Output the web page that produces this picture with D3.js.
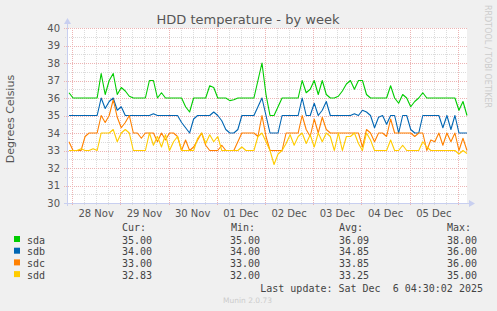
<!DOCTYPE html>
<html>
<head>
<meta charset="utf-8">
<script src="https://cdn.jsdelivr.net/npm/d3@7"></script>
<style>
	body { margin: 0; background: #F0F0F0; }
	text { font-family: "DejaVu Sans", sans-serif; }
	.mono { font-family: "DejaVu Sans Mono", monospace; font-size: 10px; fill: #444; white-space: pre; }
</style>
</head>
<body>
<div id="graph"></div>
<script>
// samples every 2 hours, first one at Nov 27 22:30 UTC
var sampleStart = Date.UTC(2025, 10, 27, 22, 30),
	sampleStep = 2 * 3600 * 1000;

var sda = [36.3, 36, 36, 36, 36, 36, 36, 36, 37.4, 36.2,
	37, 37.4, 36.2, 36.6, 36.4, 36.1, 36, 36, 36, 36,
	37, 37, 36, 36.3, 36, 36, 36, 36, 36, 35.5,
	35.2, 36, 36, 36, 36, 36.7, 36.6, 36, 36, 36,
	35.85, 35.9, 36, 36, 36, 36, 36, 37, 38, 36.2,
	35, 35, 35.5, 36, 36, 36, 36, 36, 37, 36.3,
	36.5, 37, 36.2, 37, 36.2, 36, 36, 36.1, 36.4, 36.8,
	37, 36.5, 37, 37, 36.2, 36, 36, 36, 36, 36,
	36.7, 36, 35.7, 36.2, 36, 35.5, 35.8, 36, 36.3, 36,
	36, 36, 36, 36, 36, 36, 36, 35.3, 35.8, 35];

var sdb = [35, 35, 35, 35, 35, 35, 35, 35, 36, 35.4,
	35.8, 36, 35.3, 35.5, 35, 35, 35, 35, 35, 35,
	35, 35.1, 35, 35, 35, 35, 35, 35, 34.6, 34.3,
	34, 34.8, 35, 35, 35, 35, 35.2, 35, 34.7, 34.2,
	34, 34, 34.2, 35, 35, 35, 35, 35.5, 36, 35,
	34, 34, 34, 35, 35, 35, 35, 35, 36, 35,
	35, 35.7, 35, 35.3, 35.8, 35, 35, 35, 35, 35,
	35, 35.1, 35, 35.3, 35.2, 35, 34.3, 34.9, 35, 34.5,
	35, 35, 34, 35, 35, 34.2, 34, 34, 35, 35,
	35, 35, 35, 34.3, 35, 34.2, 35, 34, 34, 34];

var sdc = [33.5, 33, 33, 33, 33.8, 34, 34, 34, 35, 34.6,
	35, 35.9, 34.9, 34.3, 34.6, 35, 34, 34, 33.7, 34,
	34, 34, 33.5, 34, 33.6, 34, 34, 33.8, 33, 33.6,
	33, 33.2, 33.6, 34, 33.3, 33, 33, 33, 33.3, 33,
	33, 33, 33.5, 34, 34, 34, 34, 33.8, 35, 33.8,
	33, 33, 33, 33, 34, 34, 34, 34, 35, 34.2,
	33.8, 34.8, 34, 34.9, 34.2, 34, 34, 34, 34, 34,
	34, 34, 34, 33.2, 34.2, 34, 33.5, 34, 34, 33.8,
	34.8, 34, 34, 34, 34, 34, 33.8, 34, 34, 33,
	33.6, 33.5, 34, 33.3, 34, 33.5, 34, 33, 33.7, 33];

var sdd = [33, 33, 33, 33.1, 33, 33, 33.1, 33, 34, 34,
	34, 34.2, 33.5, 34, 34.2, 34, 33, 33, 33, 33,
	34, 33.3, 33.8, 33.2, 33.9, 33, 33.5, 33.8, 33, 33,
	33, 33, 33.7, 34, 33.4, 33.9, 33.5, 33.8, 33, 33,
	33, 33, 33, 33.2, 33, 33, 33, 33.8, 34, 33.5,
	33, 32.2, 32.8, 33, 33.4, 33.9, 33.3, 33.8, 34, 33.4,
	33.9, 33.2, 34, 33.5, 34, 33.8, 33, 34, 33, 33.8,
	33.8, 34, 33.4, 33, 34, 33.6, 33, 33, 33, 33,
	33.6, 33, 33, 33.3, 33, 33, 33, 33, 33.5, 33.2,
	33, 33, 33, 33, 33, 33, 33, 32.8, 33, 32.83];

var seriesNames = ["sda", "sdb", "sdc", "sdd"],
	seriesColors = ["#00CC00", "#0066B3", "#FF8000", "#FFCC00"],
	seriesValues = [sda, sdb, sdc, sdd];

var legendCur = ["35.00", "34.00", "33.00", "32.83"],
	legendMin = ["35.00", "34.00", "33.00", "32.00"],
	legendAvg = ["36.09", "34.85", "33.85", "33.25"],
	legendMax = ["38.00", "36.00", "36.00", "35.00"];

var yTicks = [30, 31, 32, 33, 34, 35, 36, 37, 38, 39, 40];

var SVGwidth = 497, SVGheight = 311,
	plot = {left: 67, right: 467, top: 28, bottom: 203};

var svg = d3.select("div#graph")
	.append("svg")
	.attr("width", SVGwidth)
	.attr("height", SVGheight);

var x = d3.scaleUtc()
		.domain([new Date(Date.UTC(2025, 10, 27, 21, 30)), new Date(Date.UTC(2025, 11, 6, 4, 30))])
		.range([plot.left, plot.right]),
	y = d3.scaleLinear()
		.domain([30, 40])
		.range([plot.bottom, plot.top]);

// canvas
svg.append("rect")
	.attr("x", plot.left).attr("y", plot.top)
	.attr("width", plot.right - plot.left).attr("height", plot.bottom - plot.top)
	.attr("fill", "#FFFFFF");

// grid
var grid = svg.append("g").attr("class", "grid").attr("shape-rendering", "crispEdges");
var minorHours = d3.utcHour.every(6).range(x.domain()[0], x.domain()[1]),
	days = d3.utcDay.range(x.domain()[0], x.domain()[1]);

grid.selectAll(".vminor")
	.data(minorHours.filter(function(d){ return d.getUTCHours() != 0; }))
	.enter().append("line")
	.attr("x1", function(d){ return Math.round(x(d)) + 0.5; })
	.attr("x2", function(d){ return Math.round(x(d)) + 0.5; })
	.attr("y1", plot.top).attr("y2", plot.bottom + 2)
	.attr("stroke", "#DCDCDC").attr("stroke-dasharray", "1,1");

var halfTicks = d3.range(30.5, 40, 1);
grid.selectAll(".hminor")
	.data(halfTicks).enter().append("line")
	.attr("x1", plot.left - 2).attr("x2", plot.right)
	.attr("y1", function(d){ return Math.round(y(d)) + 0.5; })
	.attr("y2", function(d){ return Math.round(y(d)) + 0.5; })
	.attr("stroke", "#DCDCDC").attr("stroke-dasharray", "1,1");

grid.selectAll(".vmajor")
	.data(days).enter().append("line")
	.attr("x1", function(d){ return Math.round(x(d)) + 0.5; })
	.attr("x2", function(d){ return Math.round(x(d)) + 0.5; })
	.attr("y1", plot.top).attr("y2", plot.bottom + 3)
	.attr("stroke", "#EDB4B4").attr("stroke-dasharray", "1,1");

grid.selectAll(".hmajor")
	.data(yTicks.slice(1)).enter().append("line")
	.attr("x1", plot.left - 3).attr("x2", plot.right)
	.attr("y1", function(d){ return Math.round(y(d)) + 0.5; })
	.attr("y2", function(d){ return Math.round(y(d)) + 0.5; })
	.attr("stroke", "#EDB4B4").attr("stroke-dasharray", "1,1");

// series
var line = d3.line()
	.x(function(d, i){ return x(new Date(sampleStart + i * sampleStep)); })
	.y(function(d){ return y(d); });

svg.append("g").selectAll("path")
	.data(seriesValues).enter()
	.append("path")
	.attr("d", function(d){ return line(d); })
	.attr("fill", "none")
	.attr("stroke", function(d, i){ return seriesColors[i]; })
	.attr("stroke-width", 1.1)
	.attr("stroke-linejoin", "round");

// axes lines and arrows
var axisColor = "#C8CFF0";
svg.append("line")
	.attr("x1", plot.left + 0.5).attr("x2", plot.left + 0.5)
	.attr("y1", plot.bottom + 3).attr("y2", plot.top - 5)
	.attr("stroke", axisColor);
svg.append("line")
	.attr("x1", plot.left - 3).attr("x2", plot.right + 3)
	.attr("y1", plot.bottom + 0.5).attr("y2", plot.bottom + 0.5)
	.attr("stroke", axisColor);
svg.append("path")
	.attr("d", "M" + (plot.left - 3) + "," + (plot.top - 4) + "L" + (plot.left + 0.5) + "," + (plot.top - 10) + "L" + (plot.left + 4) + "," + (plot.top - 4) + "Z")
	.attr("fill", axisColor);
svg.append("path")
	.attr("d", "M" + (plot.right + 2) + "," + (plot.bottom - 3) + "L" + (plot.right + 8) + "," + (plot.bottom + 0.5) + "L" + (plot.right + 2) + "," + (plot.bottom + 4) + "Z")
	.attr("fill", axisColor);

// tick labels
svg.append("g").selectAll("text")
	.data(yTicks).enter().append("text")
	.attr("x", plot.left - 7)
	.attr("y", function(d){ return y(d) + 3.5; })
	.attr("text-anchor", "end")
	.attr("font-size", 10)
	.attr("fill", "#555")
	.text(function(d){ return d; });

var noonTicks = days.map(function(d){ return d3.utcHour.offset(d, 12); })
	.filter(function(d){ return d < x.domain()[1]; });
svg.append("g").selectAll("text")
	.data(noonTicks).enter().append("text")
	.attr("x", function(d){ return x(d); })
	.attr("y", 217)
	.attr("text-anchor", "middle")
	.attr("font-size", 10)
	.attr("fill", "#555")
	.text(function(d){ return d3.utcFormat("%d %b")(d); });

// titles
svg.append("text")
	.attr("x", 248).attr("y", 24)
	.attr("text-anchor", "middle")
	.attr("font-size", 13)
	.attr("fill", "#555")
	.text("HDD temperature - by week");

svg.append("text")
	.attr("transform", "translate(14,119) rotate(-90)")
	.attr("text-anchor", "middle")
	.attr("font-size", 11)
	.attr("fill", "#555")
	.text("Degrees Celsius");

svg.append("text")
	.attr("transform", "translate(485,5) rotate(90)")
	.attr("font-size", 8)
	.attr("fill", "#CCCCCC")
	.text("RRDTOOL / TOBI OETIKER");

// legend
var legend = svg.append("g").attr("class", "legend");
var headers = [["Cur:", 122], ["Min:", 231], ["Avg:", 339], ["Max:", 447]];
legend.selectAll(".hdr")
	.data(headers).enter().append("text")
	.attr("class", "mono")
	.attr("x", function(d){ return d[1]; })
	.attr("y", 230.5)
	.text(function(d){ return d[0]; });

var rows = legend.selectAll(".row")
	.data(seriesNames).enter().append("g")
	.attr("transform", function(d, i){ return "translate(0," + (243.5 + i * 11.7) + ")"; });

rows.append("rect")
	.attr("x", 14).attr("y", -7.5)
	.attr("width", 6).attr("height", 6)
	.attr("fill", function(d, i){ return seriesColors[i]; });
rows.append("text").attr("class", "mono").attr("x", 27).text(function(d){ return d; });
rows.append("text").attr("class", "mono").attr("x", 122).text(function(d, i){ return legendCur[i]; });
rows.append("text").attr("class", "mono").attr("x", 230).text(function(d, i){ return legendMin[i]; });
rows.append("text").attr("class", "mono").attr("x", 339).text(function(d, i){ return legendAvg[i]; });
rows.append("text").attr("class", "mono").attr("x", 447).text(function(d, i){ return legendMax[i]; });

legend.append("text")
	.attr("class", "mono")
	.attr("x", 483).attr("y", 291.5)
	.attr("text-anchor", "end")
	.text("Last update: Sat Dec  6 04:30:02 2025");

svg.append("text")
	.attr("x", 223).attr("y", 303)
	.attr("font-size", 7.5)
	.attr("fill", "#CCCCCC")
	.text("Munin 2.0.73");
</script>
</body>
</html>
